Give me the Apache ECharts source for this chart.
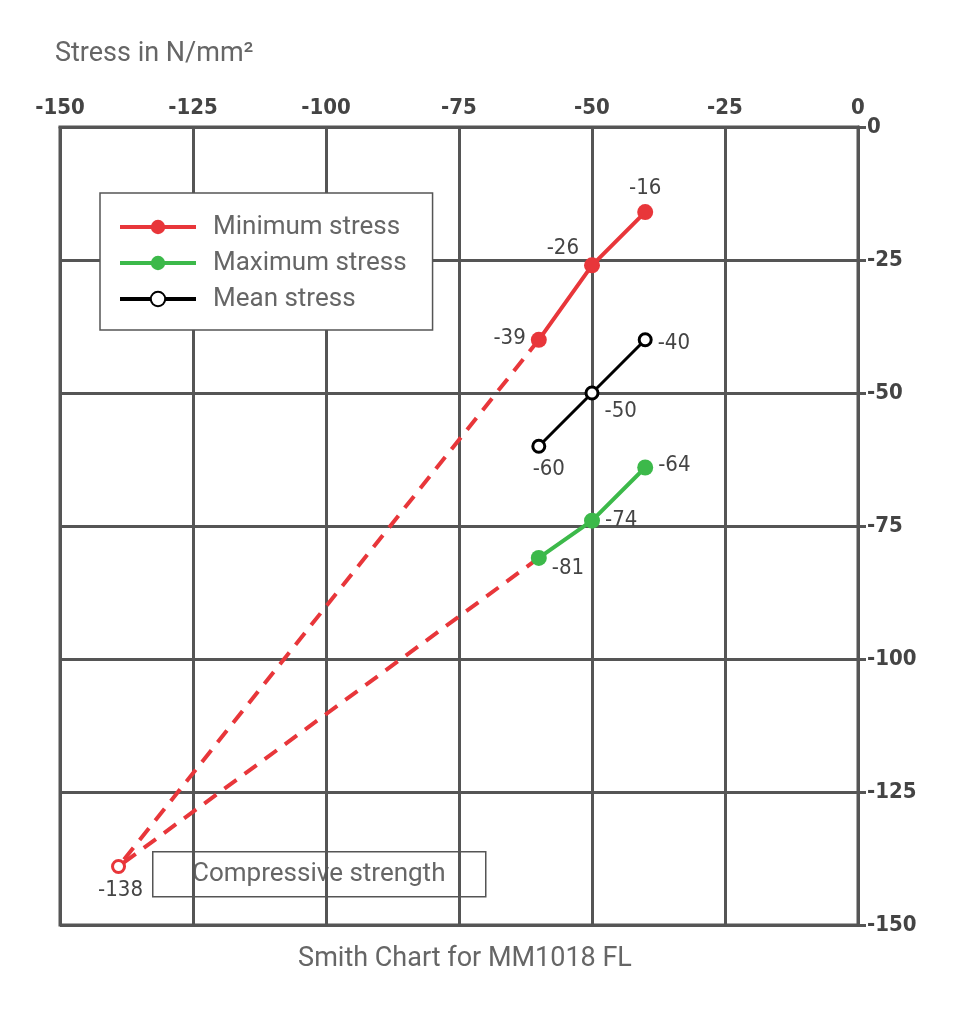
<!DOCTYPE html>
<html>
<head>
<meta charset="utf-8">
<script src="https://cdn.jsdelivr.net/npm/echarts@6/dist/echarts.min.js"></script>
<style>
  html, body { margin: 0; padding: 0; background: #fff; }
  #chart { width: 978px; height: 1024px; }
</style>
</head>
<body>
<div id="chart"></div>
<script>
// x positions shared by the three stress lines
const stressX = [-40, -50, -60]
const minStress = [-16, -26, -40]
const minLabels = ['-16', '-26', '-39']
const maxStress = [-64, -74, -81]
const maxLabels = ['-64', '-74', '-81']
const meanStress = [-40, -50, -60]
const meanLabels = ['-40', '-50', '-60']
// compressive strength end point
const compPoint = [-139, -139]
const compLabel = '-138'

const RED = '#e8363a'
const GREEN = '#3cb94a'
const GRID = '#555'
const LABEL_FONT = "'Liberation Sans Narrow', 'DejaVu Sans Condensed', sans-serif"

const chart = echarts.init(document.getElementById('chart'))

const pointLabel = (text, position, offset) => ({
    show: true,
    formatter: text,
    position,
    offset: offset || [0, 0],
    fontFamily: LABEL_FONT,
    fontSize: 22,
    color: '#444'
})

const minPos = [['top', [0, 0]], ['left', [0, -17]], ['left', [0, -2]]]
const meanPos = [['right', [0, 3]], ['right', [0, 18]], ['bottom', [10, 0]]]
const maxPos = [['right', [0, -2]], ['right', [0, 0]], ['right', [0, 10]]]

const build = (values, labels, pos) => values.map((v, i) => ({
    value: [stressX[i], v],
    label: pointLabel(labels[i], pos[i][0], pos[i][1])
}))

const option = {
    animation: false,
    title: [
        {
            text: 'Stress in N/mm²',
            left: 50,
            top: 36,
            textStyle: { fontFamily: 'Roboto', fontSize: 27, fontWeight: 'normal', color: '#666' }
        },
        {
            text: 'Smith Chart for MM1018 FL',
            left: 460,
            textAlign: 'center',
            top: 941,
            textStyle: { fontFamily: 'Roboto', fontSize: 27, fontWeight: 'normal', color: '#666' }
        }
    ],
    legend: {
        data: [
            { name: 'Minimum stress', lineStyle: { width: 4 } },
            { name: 'Maximum stress', lineStyle: { width: 4 } },
            { name: 'Mean stress', lineStyle: { width: 4 } }
        ],
        orient: 'vertical',
        left: 100,
        top: 193,
        padding: [21, 26, 18, 18],
        itemGap: 10,
        itemWidth: 76,
        itemHeight: 18,
        backgroundColor: '#fff',
        borderColor: '#555',
        borderWidth: 1.5,
        borderRadius: 0,
        textStyle: { fontFamily: 'Roboto', fontSize: 26, color: '#666', padding: [0, 0, 0, 12] }
    },
    grid: {
        left: 60,
        top: 127,
        width: 798,
        height: 798,
        show: true,
        borderColor: GRID,
        borderWidth: 3
    },
    xAxis: {
        type: 'value',
        position: 'top',
        min: -150,
        max: 0,
        interval: 25,
        axisLine: { show: true, lineStyle: { color: GRID, width: 3 } },
        axisTick: { show: false },
        splitLine: { lineStyle: { color: GRID, width: 3 } },
        axisLabel: { fontFamily: LABEL_FONT, fontWeight: 'bold', fontSize: 22, color: '#444', margin: 8 }
    },
    yAxis: {
        type: 'value',
        position: 'right',
        min: -150,
        max: 0,
        interval: 25,
        axisLine: { show: true, lineStyle: { color: GRID, width: 3 } },
        axisTick: { show: true, length: 8, lineStyle: { color: GRID, width: 3 } },
        splitLine: { lineStyle: { color: GRID, width: 3 } },
        axisLabel: { fontFamily: LABEL_FONT, fontWeight: 'bold', fontSize: 22, color: '#444', margin: 9 }
    },
    series: [
        {
            name: 'dash-min',
            type: 'line',
            data: [[stressX[2], minStress[2]], { value: compPoint, symbol: 'circle', symbolSize: 12,
                itemStyle: { color: '#fff', borderColor: RED, borderWidth: 3 },
                label: pointLabel(compLabel, 'bottom', [2, 0]) }],
            symbol: 'none',
            lineStyle: { color: RED, width: 4, type: [15, 10] },
            z: 2
        },
        {
            name: 'dash-max',
            type: 'line',
            data: [[stressX[2], maxStress[2]], compPoint],
            symbol: 'none',
            lineStyle: { color: RED, width: 4, type: [15, 10] },
            z: 2
        },
        {
            name: 'Minimum stress',
            type: 'line',
            data: build(minStress, minLabels, minPos),
            symbol: 'circle',
            symbolSize: 16,
            itemStyle: { color: RED },
            lineStyle: { color: RED, width: 4 },
            z: 3
        },
        {
            name: 'Maximum stress',
            type: 'line',
            data: build(maxStress, maxLabels, maxPos),
            symbol: 'circle',
            symbolSize: 16,
            itemStyle: { color: GREEN },
            lineStyle: { color: GREEN, width: 4 },
            z: 3
        },
        {
            name: 'Mean stress',
            type: 'line',
            data: build(meanStress, meanLabels, meanPos),
            symbol: 'circle',
            symbolSize: 12,
            itemStyle: { color: '#fff', borderColor: '#000', borderWidth: 3 },
            lineStyle: { color: '#000', width: 3 },
            z: 3
        }
    ],
    graphic: [
        {
            type: 'group',
            left: 152,
            top: 851,
            z: 100,
            children: [
                {
                    type: 'rect',
                    shape: { x: 0, y: 0, width: 333, height: 45 },
                    style: { fill: '#fff', stroke: '#555', lineWidth: 1.5 }
                },
                {
                    type: 'text',
                    x: 166,
                    y: 23,
                    style: {
                        text: 'Compressive strength',
                        fontFamily: 'Roboto',
                        fontSize: 26,
                        fill: '#666',
                        align: 'center',
                        verticalAlign: 'middle'
                    }
                }
            ]
        }
    ]
}

chart.setOption(option)
</script>
</body>
</html>
